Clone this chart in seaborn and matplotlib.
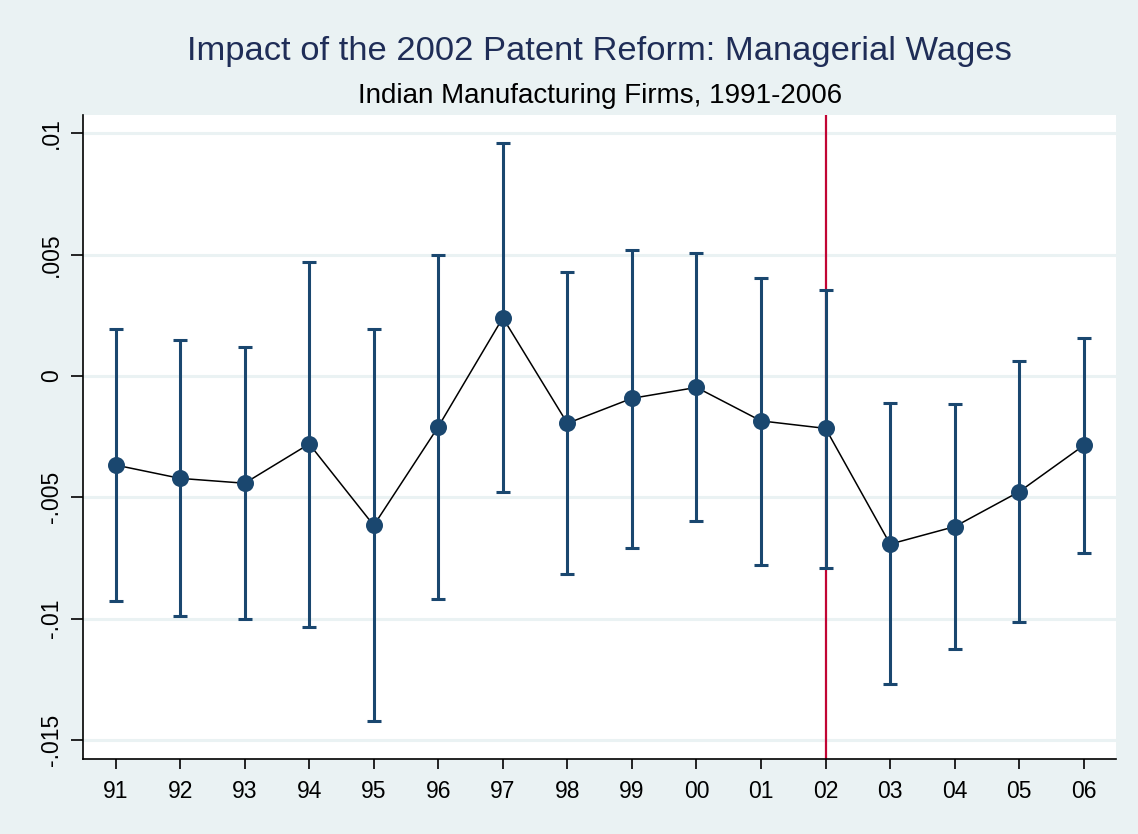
import numpy as np
import pandas as pd
import matplotlib
matplotlib.use("Agg")
import matplotlib.pyplot as plt
import seaborn as sns

# event-study coefficients, in raw units
years = ["91", "92", "93", "94", "95", "96", "97", "98",
         "99", "00", "01", "02", "03", "04", "05", "06"]
coef = [-0.00367, -0.00422, -0.00442, -0.00280, -0.00616, -0.00209, 0.00240, -0.00195,
        -0.00092, -0.00047, -0.00185, -0.00216, -0.00693, -0.00621, -0.00477, -0.00286]
ci_low = [-0.00926, -0.00989, -0.01002, -0.01036, -0.01421, -0.00919, -0.00480, -0.00815,
          -0.00708, -0.00599, -0.00779, -0.00793, -0.01270, -0.01127, -0.01014, -0.00731]
ci_high = [0.00194, 0.00148, 0.00118, 0.00471, 0.00192, 0.00499, 0.00962, 0.00427,
           0.00519, 0.00507, 0.00403, 0.00354, -0.00110, -0.00114, 0.00062, 0.00158]
reform_year = "02"
y_ticks = [0.01, 0.005, 0.0, -0.005, -0.01, -0.015]
y_tick_labels = [".01", ".005", "0", "-.005", "-.01", "-.015"]

df = pd.DataFrame({"year": years, "coef": coef, "lo": ci_low, "hi": ci_high})
df["pos"] = np.arange(len(df))

NAVY = "#1A476F"
RED = "#C10534"
BG = "#EAF2F3"

sns.set_style("ticks", {"axes.facecolor": "white", "figure.facecolor": BG})
plt.rcParams["font.family"] = ["Liberation Sans", "DejaVu Sans"]

fig = plt.figure(figsize=(11.38, 8.34), dpi=100)
ax = fig.add_axes([0.0732, 0.0899, 0.9075, 0.7722])

# horizontal grid
for yv in y_ticks:
    ax.axhline(yv, color=BG, lw=2.2, zorder=0)

# reform year marker
ax.axvline(years.index(reform_year), color=RED, lw=1.6, zorder=1)

# confidence intervals
ax.errorbar(df["pos"], df["coef"],
            yerr=[df["coef"] - df["lo"], df["hi"] - df["coef"]],
            fmt="none", ecolor=NAVY, elinewidth=2.2, capsize=4.8,
            capthick=2.2, zorder=2)

# point estimates
sns.lineplot(data=df, x="pos", y="coef", color="black", lw=1.1,
             ax=ax, zorder=3)
sns.scatterplot(data=df, x="pos", y="coef", color=NAVY, s=150,
                edgecolor=NAVY, linewidth=0, ax=ax, zorder=4)

ax.set_xlim(-0.5, len(years) - 0.5)
ax.set_ylim(-0.01579, 0.01076)
ax.set_xticks(df["pos"])
ax.set_xticklabels(years)
ax.set_yticks(y_ticks)
ax.set_yticklabels(y_tick_labels, rotation=90, va="center")
ax.set_xlabel("")
ax.set_ylabel("")

ax.tick_params(axis="x", length=7, width=1.2, pad=8, labelsize=16.5, colors="black")
ax.tick_params(axis="y", length=8.6, width=1.2, pad=6, labelsize=16.5, colors="black")
for side in ["top", "right"]:
    ax.spines[side].set_visible(False)
for side in ["left", "bottom"]:
    ax.spines[side].set_color("black")
    ax.spines[side].set_linewidth(1.2)

fig.text(0.527, 0.938, "Impact of the 2002 Patent Reform: Managerial Wages",
         ha="center", va="center", fontsize=24.8, color="#1F2D57")
fig.text(0.527, 0.885, "Indian Manufacturing Firms, 1991-2006",
         ha="center", va="center", fontsize=20, color="black")

fig.savefig("out.png", dpi=100, facecolor=BG)
plt.close(fig)
